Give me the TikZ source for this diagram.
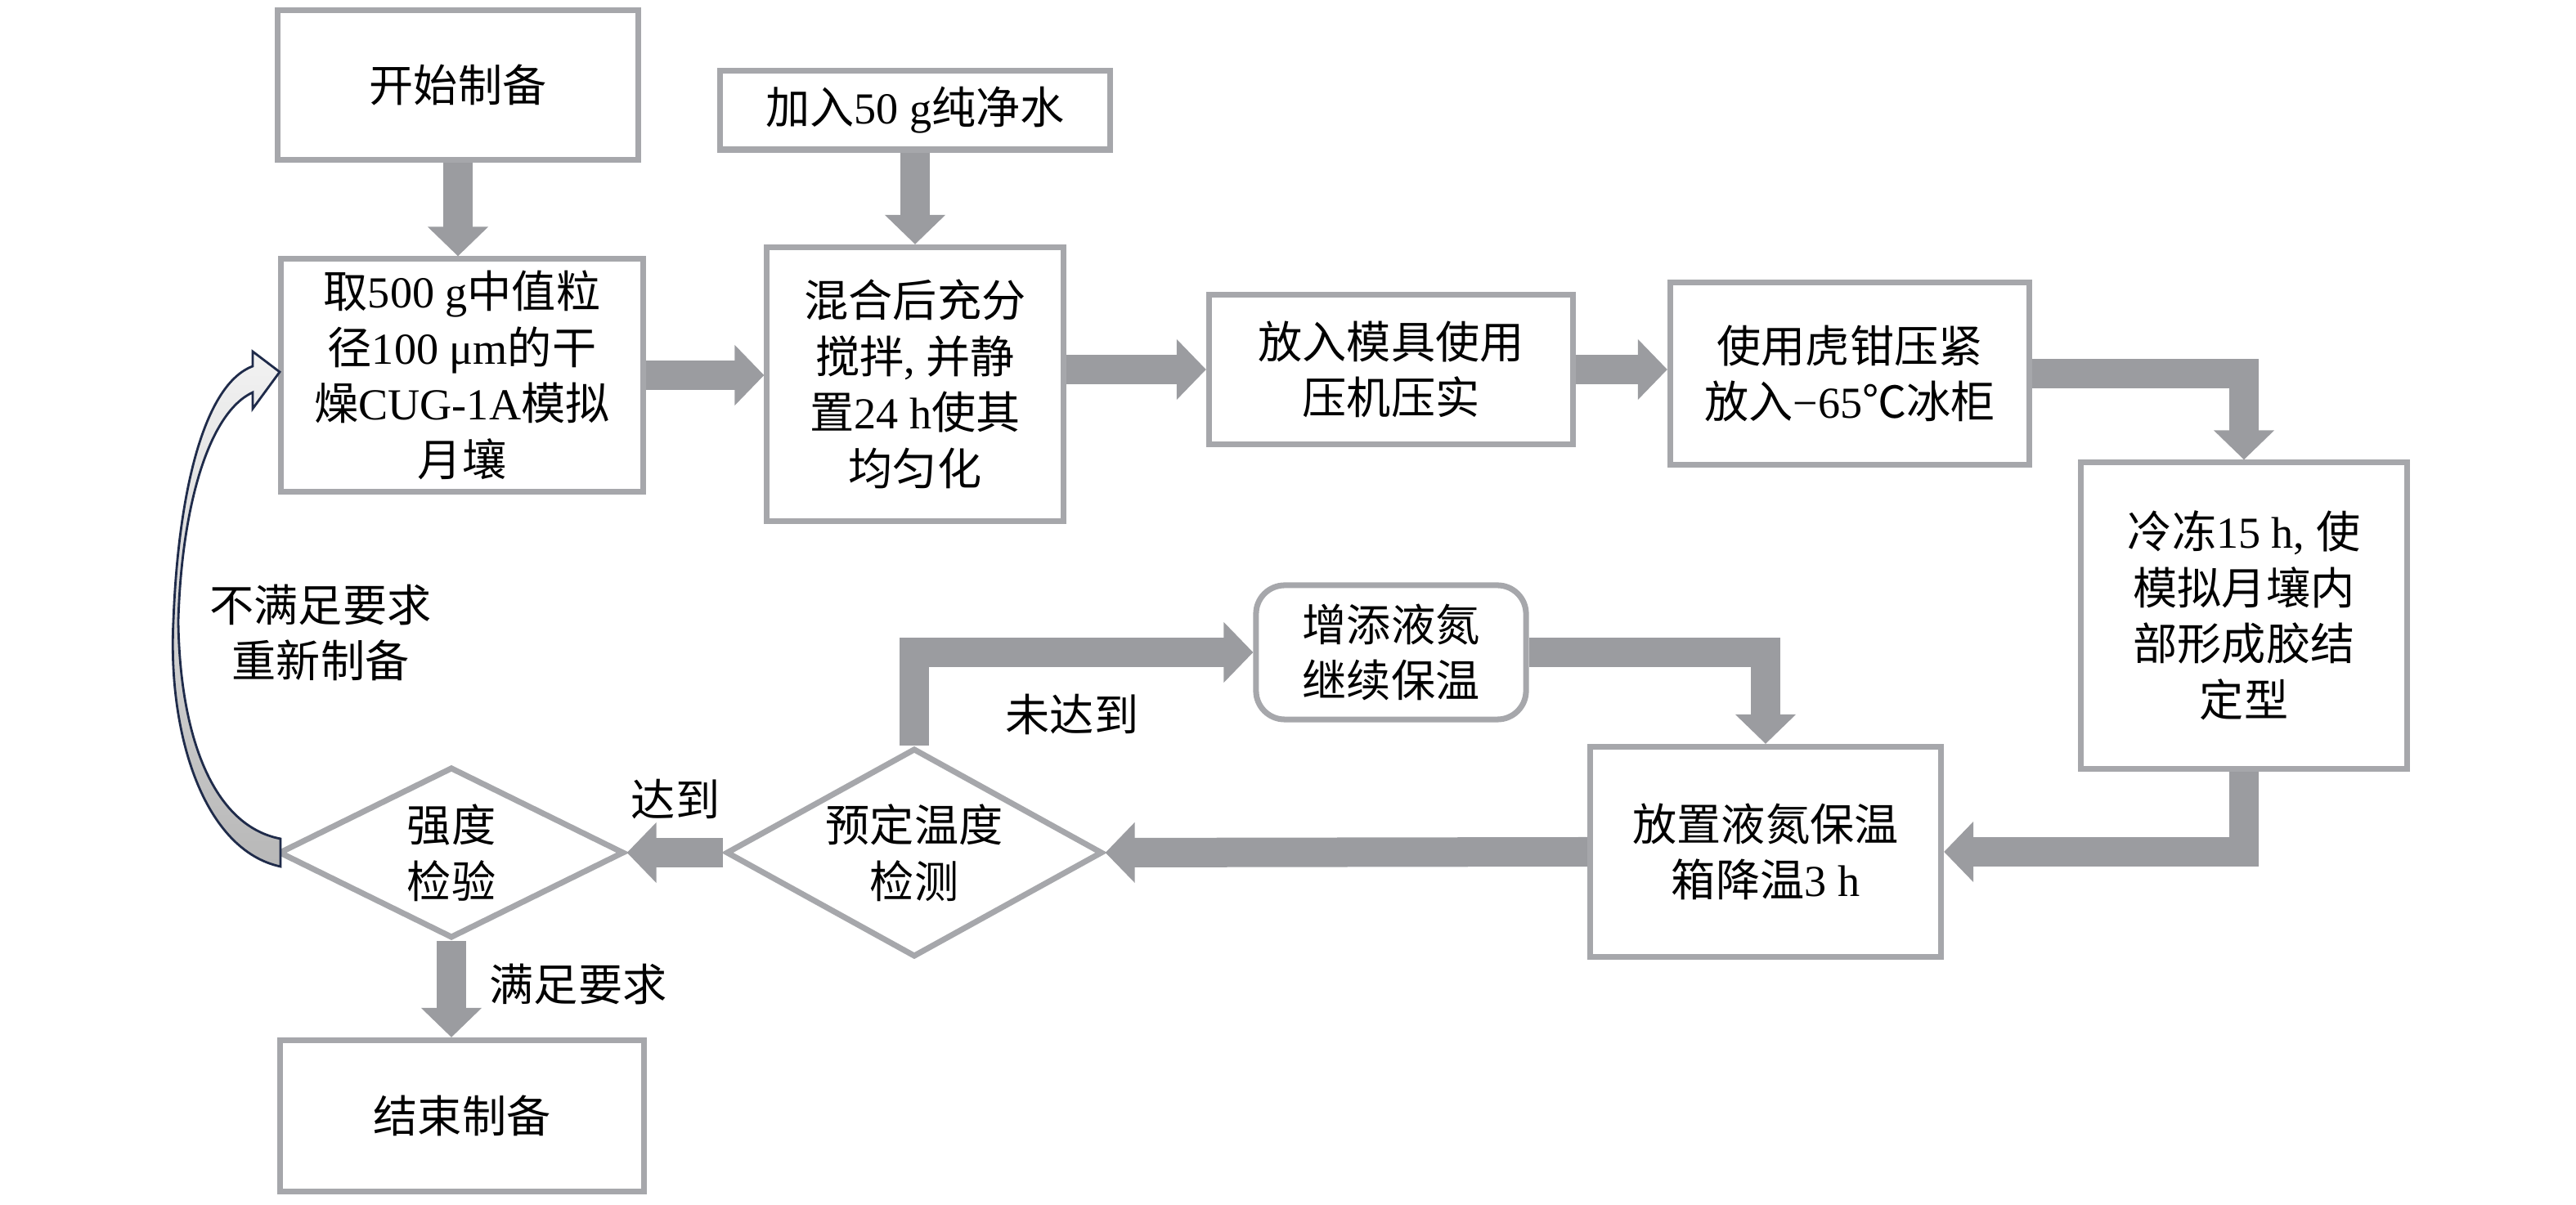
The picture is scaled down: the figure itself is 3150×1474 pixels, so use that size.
\documentclass[tikz,border=0pt]{standalone}
\usepackage{fontspec}
\setmainfont{Liberation Serif}
\newfontfamily\cjk{Noto Sans CJK SC}
\newcommand{\zh}[1]{{\cjk #1}}
\usepackage{tikz}
\usetikzlibrary{arrows.meta}
\usetikzlibrary{shapes.geometric}
\definecolor{boxgray}{RGB}{166,167,171}
\definecolor{arrgray}{RGB}{155,156,160}
\definecolor{loopnavy}{RGB}{31,43,74}

\begin{document}
\begin{tikzpicture}[x=0.01cm, y=-0.01cm,
	font=\fontsize{15.4}{19.5}\selectfont,
	box/.style={draw=boxgray, line width=2pt, align=center, inner sep=0pt},
	decide/.style={diamond, aspect=1.8, draw=boxgray, line width=2pt, align=center, inner sep=0pt},
	flow/.style={draw=arrgray, line width=0.36cm, -{Triangle[length=0.36cm, width=0.72cm]}}]
\useasboundingbox (0,0) rectangle (3150,1474);

\node[box, minimum width=4.4cm, minimum height=1.83cm] (start) at (560,104) {\zh{开始制备}};
\node[box, minimum width=4.76cm, minimum height=0.96cm] (water) at (1119,135) {\zh{加入}50 g\zh{纯净水}};
\node[box, minimum width=4.42cm, minimum height=2.84cm] (take) at (565,459)
	{\zh{取}500 g\zh{中值粒}\\\zh{径}100 μm\zh{的干}\\\zh{燥}CUG-1A\zh{模拟}\\\zh{月壤}};
\node[box, minimum width=3.62cm, minimum height=3.35cm] (mix) at (1119,470)
	{\zh{混合后充分}\\\zh{搅拌}, \zh{并静}\\\zh{置}24 h\zh{使其}\\\zh{均匀化}};
\node[box, minimum width=4.45cm, minimum height=1.83cm] (mold) at (1701,452) {\zh{放入模具使用}\\\zh{压机压实}};
\node[box, minimum width=4.39cm, minimum height=2.22cm] (vise) at (2262,457) {\zh{使用虎钳压紧}\\\zh{放入}−65\zh{℃冰柜}};
\node[box, minimum width=3.98cm, minimum height=3.74cm] (freeze) at (2744,753)
	{\zh{冷冻}15 h, \zh{使}\\\zh{模拟月壤内}\\\zh{部形成胶结}\\\zh{定型}};
\node[box, minimum width=4.29cm, minimum height=2.57cm] (keep) at (2159,1042) {\zh{放置液氮保温}\\\zh{箱降温}3 h};
\node[box, rounded corners=0.35cm, minimum width=3.3cm, minimum height=1.64cm] (add) at (1701,798) {\zh{增添液氮}\\\zh{继续保温}};
\node[decide, minimum width=4.6cm, minimum height=2.55cm] (check) at (1118,1043) {\zh{预定温度}\\\zh{检测}};
\node[decide, minimum width=4.22cm, minimum height=2.09cm] (strength) at (552,1043) {\zh{强度}\\\zh{检验}};
\node[box, minimum width=4.45cm, minimum height=1.85cm] (end) at (565,1365) {\zh{结束制备}};

\node[align=center] (retry) at (392,774) {\zh{不满足要求}\\\zh{重新制备}};
\node (okstr) at (707,1204) {\zh{满足要求}};
\node (reach) at (826,978) {\zh{达到}};
\node (notreach) at (1311,874) {\zh{未达到}};

\draw[flow] (start.south) -- (start.south |- take.north);
\draw[flow] (water.south) -- (water.south |- mix.north);
\draw[flow] (take.east) -- (take.east -| mix.west);
\draw[flow] (mold.west -| mix.east) -- (mold.west);
\draw[flow] (mold.east) -- (mold.east -| vise.west);
\draw[flow] (vise.east) -| (freeze.north);
\draw[flow] (freeze.south) |- (keep.east);
\draw[flow] (keep.west) -- (check.east);
\draw[flow] (check.west) -- (strength.east);
\draw[flow] (check.north) |- (add.west);
\draw[flow] (add.east) -| (keep.north);
\draw[flow] (strength.south) -- (strength.south |- end.north);

\draw[loopnavy, line width=0.8pt, top color=black!5, bottom color=black!28]
	(343,1060) .. controls (250,1040) and (205,900) .. (212,760)
	.. controls (218,600) and (250,470) .. (309,448) -- (309,430) -- (342,455) -- (309,500) -- (309,480)
	.. controls (255,505) and (222,620) .. (218,760)
	.. controls (220,900) and (260,1010) .. (343,1026) -- cycle;
\end{tikzpicture}
\end{document}
